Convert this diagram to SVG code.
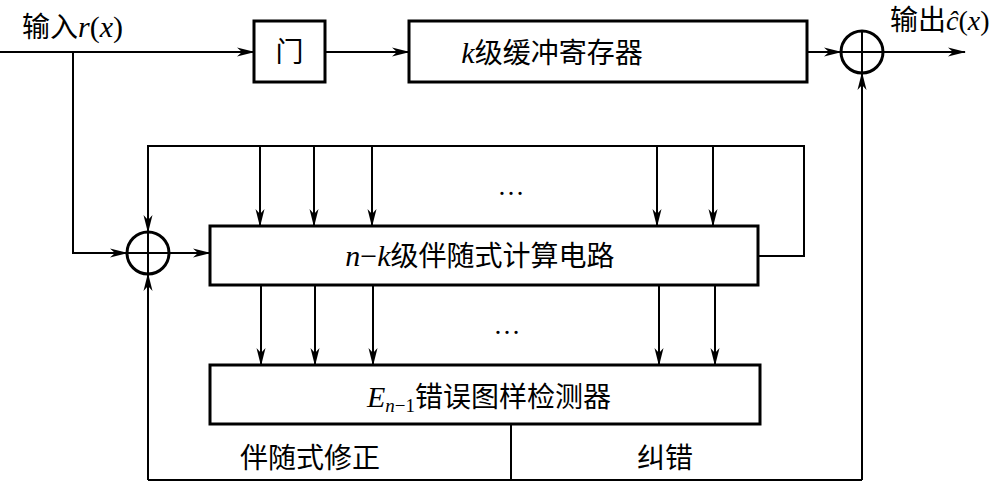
<svg xmlns="http://www.w3.org/2000/svg" width="1002" height="482" viewBox="0 0 1002 482">
<defs>
<marker id="ah" markerUnits="userSpaceOnUse" markerWidth="18" markerHeight="10" viewBox="0 0 18 10" refX="17" refY="5" orient="auto">
<path d="M0,0.5 L18,5 L0,9.5 L5,5 z" fill="#000"/>
</marker>
</defs>
<style>
.box{fill:#fff;stroke:#000;stroke-width:3}
.sum{fill:#fff;stroke:#000;stroke-width:3}
.x{stroke:#000;stroke-width:2}
.c{fill:none;stroke:#000;stroke-width:2}
.a{marker-end:url(#ah)}
.t{font-family:"Liberation Serif","Noto Sans CJK SC",serif;font-size:27px;fill:#000}
.cjk{font-family:"Noto Sans CJK SC","Liberation Serif",serif;font-size:28px;fill:#000}
.i{font-family:"Liberation Serif",serif;font-style:italic}
</style>
<rect width="1002" height="482" fill="#fff"/>
<g id="connectors">
<path class="c a" d="M0,52 H254"/>
<path class="c a" d="M325,52 H409"/>
<path class="c a" d="M807,52 H841"/>
<path class="c a" d="M883,52 H965"/>
<path class="c a" d="M73,52 V253 H127"/>
<path class="c a" d="M169,253 H210"/>
<path class="c a" d="M758,256 H804 V146 H148 V232"/>
<path class="c a" d="M260,146 V226"/>
<path class="c a" d="M314,146 V226"/>
<path class="c a" d="M372,146 V226"/>
<path class="c a" d="M657,146 V226"/>
<path class="c a" d="M713,146 V226"/>
<path class="c a" d="M261,285 V365"/>
<path class="c a" d="M315,285 V365"/>
<path class="c a" d="M373,285 V365"/>
<path class="c a" d="M659,285 V365"/>
<path class="c a" d="M715,285 V365"/>
<path class="c" d="M511,424 V480"/>
<path class="c" d="M148,480 H862"/>
<path class="c a" d="M148,480 V274"/>
<path class="c a" d="M862,480 V73"/>
<text class="t" x="511" y="195" text-anchor="middle" font-size="44">…</text>
<text class="t" x="507" y="334" text-anchor="middle" font-size="44">…</text>
</g>
<g id="input-label">
<text class="cjk" x="22" y="37">输入<tspan class="i" font-size="30">r</tspan><tspan font-family="Liberation Serif" font-size="30">(</tspan><tspan class="i" font-size="30">x</tspan><tspan font-family="Liberation Serif" font-size="30">)</tspan></text>
</g>
<g id="output-label">
<text class="cjk" x="890" y="30" font-size="27">输出<tspan class="i" font-size="28">ĉ</tspan><tspan font-family="Liberation Serif" font-size="28">(</tspan><tspan class="i" font-size="28">x</tspan><tspan font-family="Liberation Serif" font-size="28">)</tspan></text>
</g>
<g id="gate">
<rect class="box" x="254" y="21" width="71" height="61"/>
<text class="cjk" x="289.5" y="62" text-anchor="middle">门</text>
</g>
<g id="buffer">
<rect class="box" x="409" y="21" width="398" height="61"/>
<text class="cjk" x="552" y="63" text-anchor="middle"><tspan class="i" font-size="30">k</tspan>级缓冲寄存器</text>
</g>
<g id="adder-out">
<circle class="sum" cx="862" cy="52" r="21"/>
<path class="x" d="M841,52 H883 M862,31 V73"/>
</g>
<g id="adder-in">
<circle class="sum" cx="148" cy="253" r="21"/>
<path class="x" d="M127,253 H169 M148,232 V274"/>
</g>
<g id="syndrome">
<rect class="box" x="210" y="226" width="548" height="59"/>
<text class="cjk" x="480" y="266" text-anchor="middle"><tspan class="i" font-size="30">n</tspan><tspan font-family="Liberation Serif" font-size="30">−</tspan><tspan class="i" font-size="30">k</tspan>级伴随式计算电路</text>
</g>
<g id="detector">
<rect class="box" x="210" y="365" width="550" height="59"/>
<text class="cjk" x="489" y="407" text-anchor="middle"><tspan class="i" font-size="30">E</tspan><tspan class="i" font-size="19" dy="5">n</tspan><tspan font-family="Liberation Serif" font-size="19">−1</tspan><tspan dy="-5">错误图样检测器</tspan></text>
</g>
<g id="labels">
<text class="cjk" x="240" y="468">伴随式修正</text>
<text class="cjk" x="637" y="468">纠错</text>
</g>
</svg>
